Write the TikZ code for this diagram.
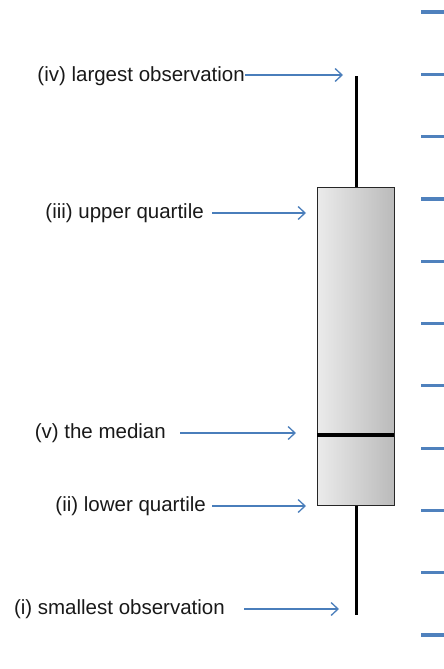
\documentclass[tikz,border=0pt]{standalone}
\usepackage{fontspec}
\setmainfont{Liberation Sans}
\usetikzlibrary{arrows.meta}
\definecolor{arrowblue}{HTML}{4A7EBB}
\definecolor{tickblue}{HTML}{4F81BD}
\tikzset{
  lbl/.style={anchor=east, inner sep=0pt, font=\fontsize{20.5}{24}\selectfont, text=black!90},
  pointer/.style={draw=arrowblue, line width=1.3pt, -{Straight Barb[length=7pt,width=13pt,line width=1.3pt]}},
  tickmark/.style={draw=tickblue, line width=3.2pt},
  whisker/.style={draw=black, line width=3pt},
}
\begin{document}
\begin{tikzpicture}[x=1pt,y=-1pt]
\useasboundingbox (0,0) rectangle (444,669);
% whisker
\coordinate (wtop) at (356,76);
\coordinate (wbot) at (356,615);
\draw[whisker] (wtop) -- (wbot);
% box
\node[draw=black!85, line width=1.3pt, shading=axis, left color=black!8, right color=black!27,
      minimum width=77pt, minimum height=318pt, inner sep=0pt, anchor=north west] (box) at (317,187) {};
\coordinate (medL) at (317,435);
\coordinate (medR) at (394,435);
\draw[black, line width=4.5pt] (medL) -- (medR);
% ticks
\foreach \k in {0,...,10} {
  \coordinate (ta\k) at (421,12+62.3*\k);
  \coordinate (tb\k) at (444,12+62.3*\k);
  \draw[tickmark] (ta\k) -- (tb\k);
}
% labels
\node[lbl] (t4) at (245,76.5) {(iv) largest observation};
\coordinate (a4s) at (245,75); \coordinate (a4e) at (343,75);
\draw[pointer] (a4s) -- (a4e);
\node[lbl] (t3) at (204,213.5) {(iii) upper quartile};
\coordinate (a3s) at (212,213); \coordinate (a3e) at (306,213);
\draw[pointer] (a3s) -- (a3e);
\node[lbl] (t5) at (166,433.5) {(v) the median};
\coordinate (a5s) at (180,433); \coordinate (a5e) at (296,433);
\draw[pointer] (a5s) -- (a5e);
\node[lbl] (t2) at (206,506.5) {(ii) lower quartile};
\coordinate (a2s) at (212,506); \coordinate (a2e) at (306,506);
\draw[pointer] (a2s) -- (a2e);
\node[lbl] (t1) at (225,609.5) {(i) smallest observation};
\coordinate (a1s) at (244,609); \coordinate (a1e) at (339,609);
\draw[pointer] (a1s) -- (a1e);
\end{tikzpicture}
\end{document}
